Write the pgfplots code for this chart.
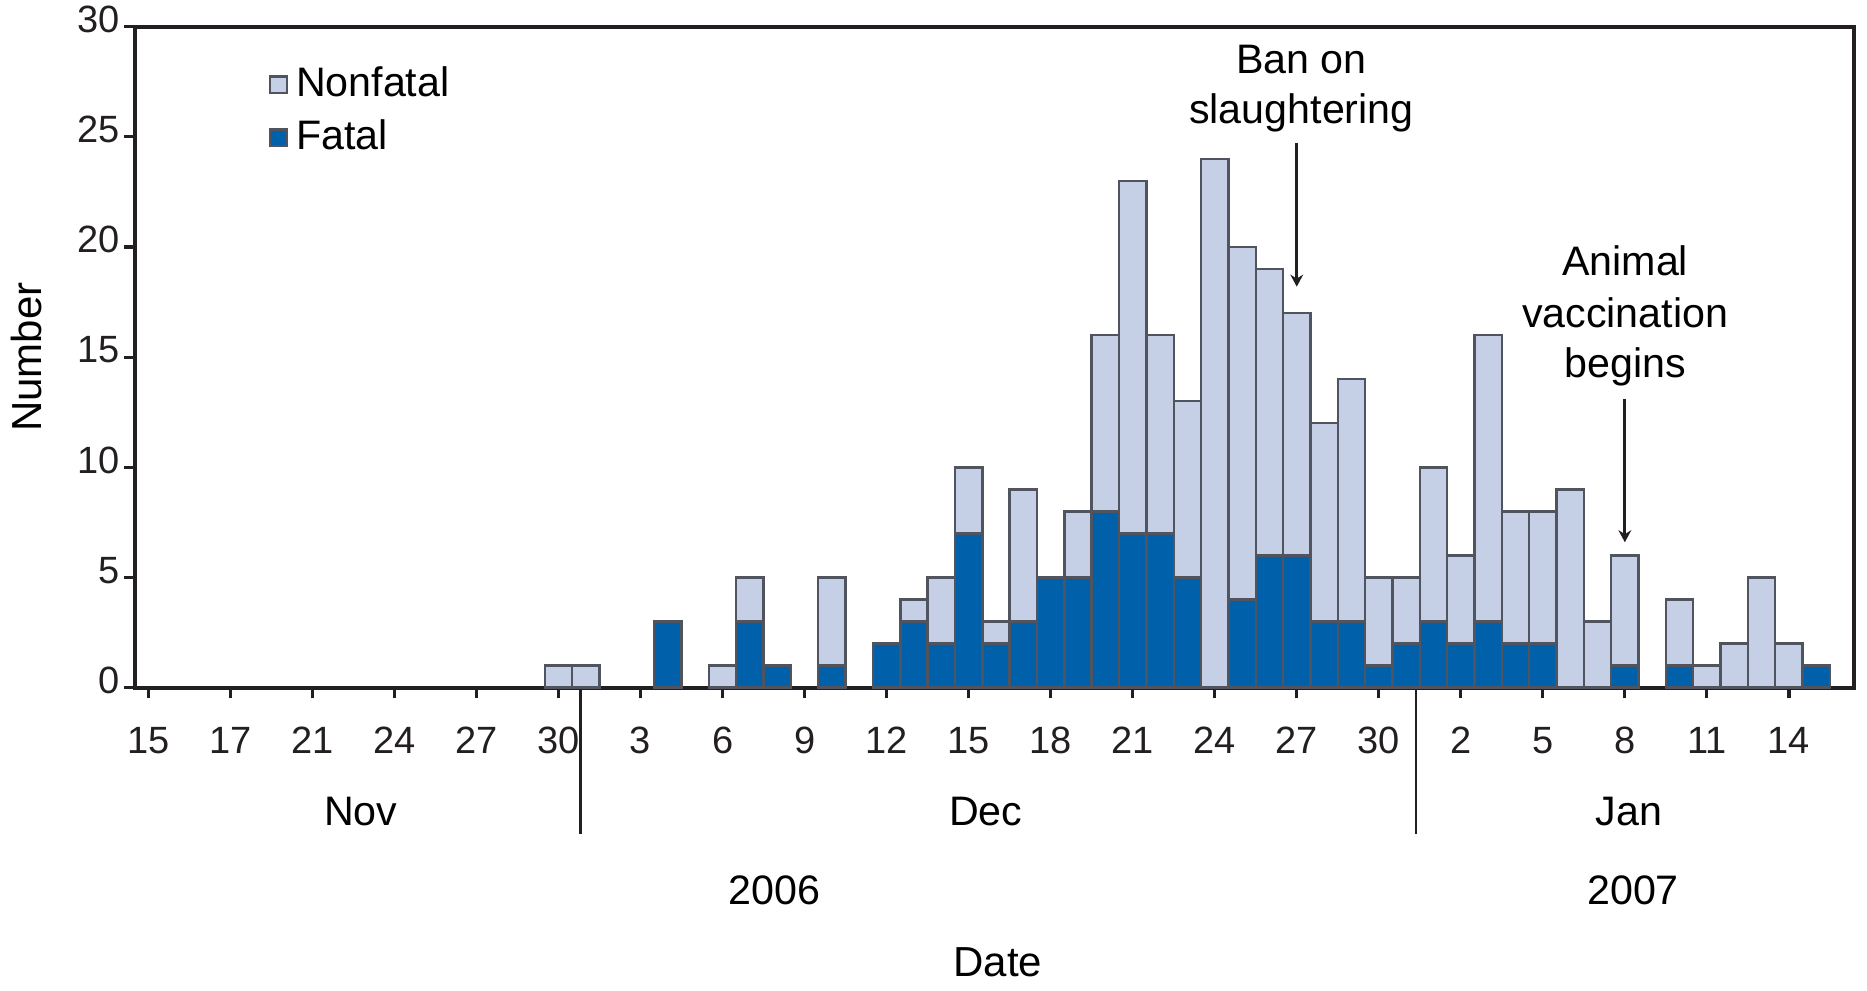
\documentclass[border=0pt]{standalone}
\usepackage{fontspec}
\setmainfont{Liberation Sans}
\usepackage{pgfplots}
\usepackage{pgfplotstable}
\pgfplotsset{compat=1.18}
\usetikzlibrary{arrows.meta}
\definecolor{nonfatal}{RGB}{197,208,231}
\definecolor{fatal}{RGB}{0,96,170}
\definecolor{edge}{RGB}{80,84,94}
\definecolor{axisblack}{RGB}{35,31,32}

% u: Nov 30 = 15, Dec d = 15+d, Jan d = 46+d
\pgfplotstableread{
u  F  N
15 0  1
16 0  1
19 3  0
21 0  1
22 3  2
23 1  0
25 1  4
27 2  0
28 3  1
29 2  3
30 7  3
31 2  1
32 3  6
33 5  0
34 5  3
35 8  8
36 7  16
37 7  9
38 5  8
39 0  24
40 4  16
41 6  13
42 6  11
43 3  9
44 3  11
45 1  4
46 2  3
47 3  7
48 2  4
49 3  13
50 2  6
51 2  6
52 0  9
53 0  3
54 1  5
56 1  3
57 0  1
58 0  2
59 0  5
60 0  2
61 1  0
}\datatable

\begin{document}
\begin{tikzpicture}
\useasboundingbox (0,0) rectangle (466.75pt,247.75pt);
\begin{axis}[
  at={(33.75pt,75.83pt)}, anchor=south west,
  width=429.75pt, height=165.25pt, scale only axis,
  xmin=-0.49, xmax=62.38, ymin=0, ymax=30,
  ybar stacked, bar width=1,
  xtick={0,3,...,60},
  xticklabels={15,17,21,24,27,30,3,6,9,12,15,18,21,24,27,30,2,5,8,11,14},
  ytick={0,5,...,30},
  /pgf/number format/assume math mode=true,
  tick align=outside, tick pos=left,
  major tick length=2.7pt,
  axis line style={axisblack, line width=1pt},
  every tick/.style={axisblack, line width=0.8pt},
  tick label style={font=\fontsize{9.5}{11}\selectfont, text=axisblack},
  xticklabel style={anchor=center, yshift=-10.5pt},
  yticklabel style={anchor=east, inner sep=0.5pt, yshift=1.8pt, xshift=-0.4pt},
  every axis y label/.style={at={(axis description cs:-0.0633,0.5)}, rotate=90, anchor=center, font=\fontsize{10.5}{12}\selectfont},
  every axis x label/.style={at={(axis description cs:0.502,-0.415)}, anchor=center, font=\fontsize{10.5}{12}\selectfont},
  ylabel={Number},
  xlabel={Date},
  clip=false,
  reverse legend,
  legend style={at={(axis description cs:0.0774,0.872)}, anchor=west, draw=none, fill=none,
    font=\fontsize{10.3}{12}\selectfont, inner sep=0pt, row sep=0.3pt},
  legend cell align=left,
  mybar/.style={draw=edge, line width=0.6pt,
    legend image code/.code={\draw[##1, line width=0.6pt] (0pt,-2.1pt) rectangle (4.2pt,2.1pt);}},
]
\addplot[mybar, fill=fatal] table[x=u, y=F] {\datatable};
\addlegendentry{Fatal}
\addplot[mybar, fill=nonfatal] table[x=u, y=N] {\datatable};
\addlegendentry{Nonfatal}

% month / year separators and labels
\draw[axisblack, line width=0.7pt] (axis cs:15.8,0) -- (axis cs:15.8,-6.62);
\draw[axisblack, line width=0.7pt] (axis cs:46.36,0) -- (axis cs:46.36,-6.62);
\node[font=\fontsize{10.3}{12}\selectfont] at (axis cs:7.77,-5.64) {Nov};
\node[font=\fontsize{10.3}{12}\selectfont] at (axis cs:30.63,-5.64) {Dec};
\node[font=\fontsize{10.3}{12}\selectfont] at (axis cs:54.15,-5.64) {Jan};
\node[font=\fontsize{10.3}{12}\selectfont] at (axis cs:22.9,-9.21) {2006};
\node[font=\fontsize{10.3}{12}\selectfont] at (axis cs:54.3,-9.21) {2007};

% annotations
\node[font=\fontsize{10.3}{12}\selectfont, anchor=base] at (axis cs:42.17,27.87) {Ban on};
\node[font=\fontsize{10.3}{12}\selectfont, anchor=base] at (axis cs:42.17,25.6) {slaughtering};
\draw[axisblack, line width=0.7pt, -{Stealth[length=3pt,width=3.2pt]}] (axis cs:42,24.7) -- (axis cs:42,18.2);
\node[font=\fontsize{10.3}{12}\selectfont, anchor=base] at (axis cs:54.01,18.69) {Animal};
\node[font=\fontsize{10.3}{12}\selectfont, anchor=base] at (axis cs:54.01,16.35) {vaccination};
\node[font=\fontsize{10.3}{12}\selectfont, anchor=base] at (axis cs:54.01,14.08) {begins};
\draw[axisblack, line width=0.7pt, -{Stealth[length=3pt,width=3.2pt]}] (axis cs:54,13.1) -- (axis cs:54,6.6);
\end{axis}
\end{tikzpicture}
\end{document}
